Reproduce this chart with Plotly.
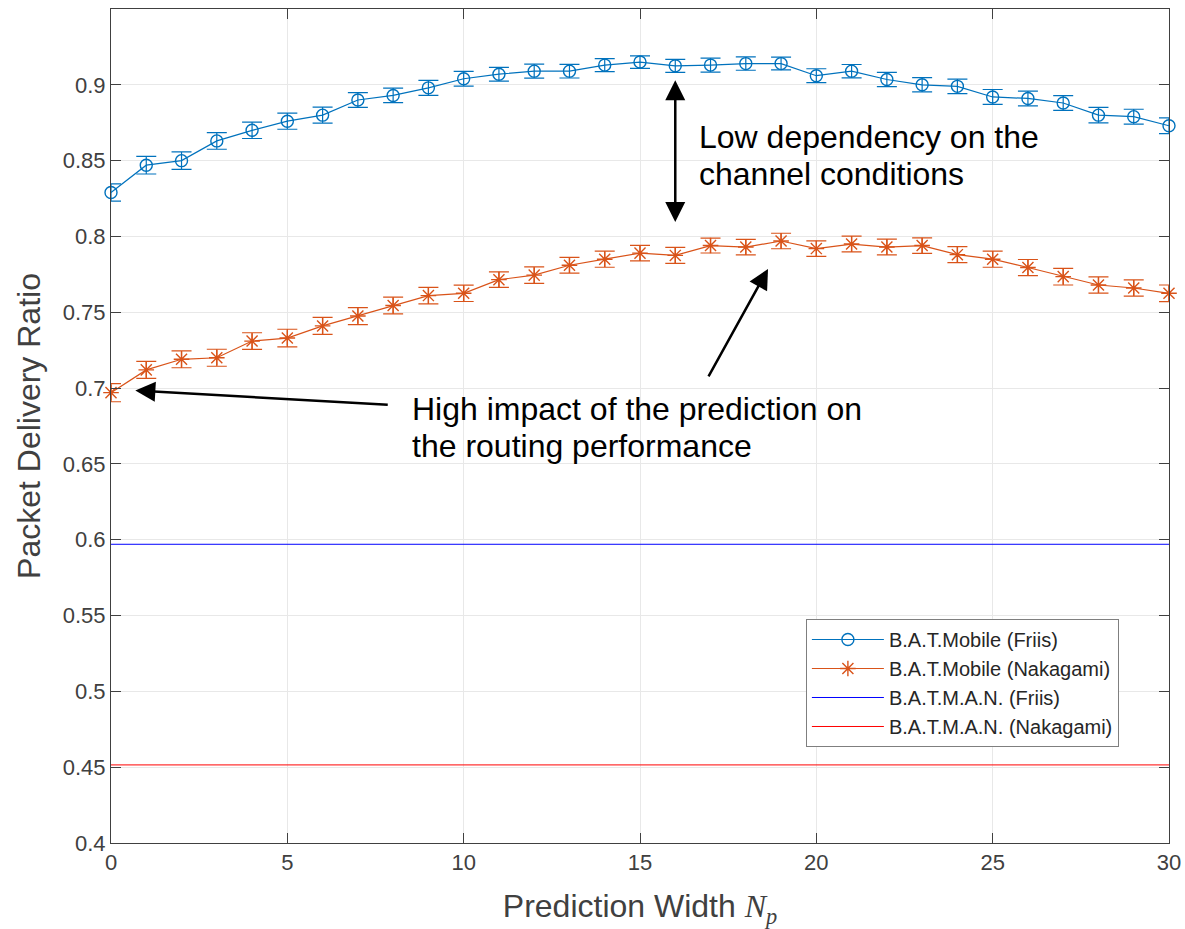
import plotly.graph_objects as go

# ---------------- data ----------------
prediction_width = list(range(31))

batmobile_friis = [0.829, 0.847, 0.850, 0.863, 0.870, 0.876, 0.880, 0.890, 0.893, 0.898,
                   0.904, 0.907, 0.909, 0.909, 0.913, 0.915, 0.9125, 0.913, 0.914, 0.914,
                   0.906, 0.909, 0.9035, 0.900, 0.899, 0.892, 0.891, 0.888, 0.880, 0.879, 0.873]
batmobile_friis_err = [0.0057, 0.0058, 0.0058, 0.0055, 0.0054, 0.0053, 0.0053, 0.0049, 0.0048, 0.0049,
                       0.0048, 0.0045, 0.0046, 0.0045, 0.0043, 0.0041, 0.0043, 0.0046, 0.0044, 0.0042,
                       0.0046, 0.0044, 0.0047, 0.0047, 0.0048, 0.0049, 0.0049, 0.0049, 0.0051, 0.0049, 0.0052]

batmobile_naka = [0.697, 0.712, 0.719, 0.720, 0.731, 0.733, 0.741, 0.7475, 0.7545, 0.761,
                  0.7625, 0.7715, 0.7745, 0.781, 0.785, 0.789, 0.7875, 0.794, 0.793, 0.797,
                  0.792, 0.795, 0.793, 0.794, 0.788, 0.785, 0.7795, 0.7735, 0.768, 0.766, 0.7625]
batmobile_naka_err = [0.0060, 0.0056, 0.0056, 0.0056, 0.0055, 0.0058, 0.0056, 0.0056, 0.0055, 0.0054,
                      0.0054, 0.0051, 0.0054, 0.0052, 0.0053, 0.0051, 0.0053, 0.0049, 0.0051, 0.0051,
                      0.0051, 0.0052, 0.0052, 0.0051, 0.0053, 0.0053, 0.0053, 0.0055, 0.0054, 0.0054, 0.0055]

batman_friis_level = 0.597
batman_naka_level = 0.4515

x_tick_vals = [0, 5, 10, 15, 20, 25, 30]
y_tick_vals = [0.4, 0.45, 0.5, 0.55, 0.6, 0.65, 0.7, 0.75, 0.8, 0.85, 0.9]
y_tick_text = ["0.4", "0.45", "0.5", "0.55", "0.6", "0.65", "0.7", "0.75", "0.8", "0.85", "0.9"]

series_names = ["B.A.T.Mobile (Friis)", "B.A.T.Mobile (Nakagami)",
                "B.A.T.M.A.N. (Friis)", "B.A.T.M.A.N. (Nakagami)"]

# ---------------- style ----------------
FONT = "Liberation Sans, Arial, Helvetica, sans-serif"
AX_COL = "#404040"
GRID_COL = "#e8e8e8"
BLUE = "#0072BD"
ORANGE = "#D95319"

fig = go.Figure()

fig.add_trace(go.Scatter(
    x=prediction_width, y=batmobile_friis, name=series_names[0], mode="lines+markers",
    line=dict(color=BLUE, width=1.2),
    marker=dict(symbol="circle-open", size=12, color=BLUE, line=dict(width=1.4, color=BLUE)),
    error_y=dict(type="data", array=batmobile_friis_err, visible=True, color=BLUE,
                 thickness=1.2, width=10),
    cliponaxis=False,
))
fig.add_trace(go.Scatter(
    x=prediction_width, y=batmobile_naka, name=series_names[1], mode="lines+markers",
    line=dict(color=ORANGE, width=1.2),
    marker=dict(symbol="asterisk-open", size=13, color=ORANGE, line=dict(width=1.4, color=ORANGE)),
    error_y=dict(type="data", array=batmobile_naka_err, visible=True, color=ORANGE,
                 thickness=1.2, width=10),
    cliponaxis=False,
))
fig.add_trace(go.Scatter(
    x=[prediction_width[0], prediction_width[-1]],
    y=[batman_friis_level, batman_friis_level],
    name=series_names[2], mode="lines", line=dict(color="#0000FF", width=1),
))
fig.add_trace(go.Scatter(
    x=[prediction_width[0], prediction_width[-1]],
    y=[batman_naka_level, batman_naka_level],
    name=series_names[3], mode="lines", line=dict(color="#FF0000", width=1),
))

# ---------------- annotations ----------------
ann_font = dict(family=FONT, size=32, color="black")
ARW = dict(arrowwidth=2.5, arrowsize=1.6, arrowcolor="black", arrowhead=2)
annotations = [
    # double arrow
    dict(x=16, y=0.903, ax=16, ay=0.8085, xref="x", yref="y", axref="x", ayref="y",
         text="", showarrow=True, startarrowhead=2, arrowside="end+start",
         startarrowsize=1.6, **ARW),
    # arrow to Nakagami peak
    dict(x=18.63, y=0.7786, ax=16.92, ay=0.7067, xref="x", yref="y", axref="x", ayref="y",
         text="", showarrow=True, **ARW),
    # arrow to first Nakagami point
    dict(x=0.69, y=0.6984, ax=7.89, ay=0.6889, xref="x", yref="y", axref="x", ayref="y",
         text="", showarrow=True, **ARW),
    dict(x=16.62, y=0.8659, xref="x", yref="y", text="Low dependency on the",
         showarrow=False, xanchor="left", yanchor="middle", font=ann_font),
    dict(x=16.62, y=0.8415, xref="x", yref="y", text="channel conditions",
         showarrow=False, xanchor="left", yanchor="middle", font=ann_font),
    dict(x=8.48, y=0.6865, xref="x", yref="y", text="High impact of the prediction on",
         showarrow=False, xanchor="left", yanchor="middle", font=ann_font),
    dict(x=8.48, y=0.6621, xref="x", yref="y", text="the routing performance",
         showarrow=False, xanchor="left", yanchor="middle", font=ann_font),
]

fig.update_layout(
    width=1185, height=929,
    margin=dict(l=111, r=16, t=9, b=86),
    paper_bgcolor="white", plot_bgcolor="white",
    font=dict(family=FONT, color=AX_COL),
    showlegend=True,
    legend=dict(x=0.6568, y=0.2686, xanchor="left", yanchor="top",
                bgcolor="white", bordercolor="#7f7f7f", borderwidth=1,
                font=dict(family=FONT, size=20, color="#262626"),
                itemwidth=72, tracegroupgap=0),
    annotations=annotations,
)

fig.update_xaxes(
    range=[0, 30], tickvals=x_tick_vals, automargin=False,
    showgrid=True, gridcolor=GRID_COL, gridwidth=1, zeroline=False,
    showline=True, linecolor=AX_COL, linewidth=1, mirror="ticks",
    ticks="inside", ticklen=10, tickcolor=AX_COL, tickwidth=1,
    tickfont=dict(family=FONT, size=22, color=AX_COL),
    title=dict(text="Prediction Width <span style=\"font-family:'Liberation Serif', serif\"><i>N</i><sub><i>p</i></sub></span>",
               font=dict(family=FONT, size=32, color=AX_COL), standoff=22),
)
fig.update_yaxes(
    range=[0.4, 0.95], tickvals=y_tick_vals, ticktext=y_tick_text, automargin=False,
    showgrid=True, gridcolor=GRID_COL, gridwidth=1, zeroline=False,
    showline=True, linecolor=AX_COL, linewidth=1, mirror="ticks",
    ticks="inside", ticklen=10, tickcolor=AX_COL, tickwidth=1,
    tickfont=dict(family=FONT, size=22, color=AX_COL),
    title=dict(text="Packet Delivery Ratio", font=dict(family=FONT, size=32, color=AX_COL), standoff=12),
)

# remove the default 8px page margin so the figure fills the window exactly
fig.write_html("out.html",
               config={"displayModeBar": False},
               post_script="document.body.style.margin='0';document.body.style.overflow='hidden';")
